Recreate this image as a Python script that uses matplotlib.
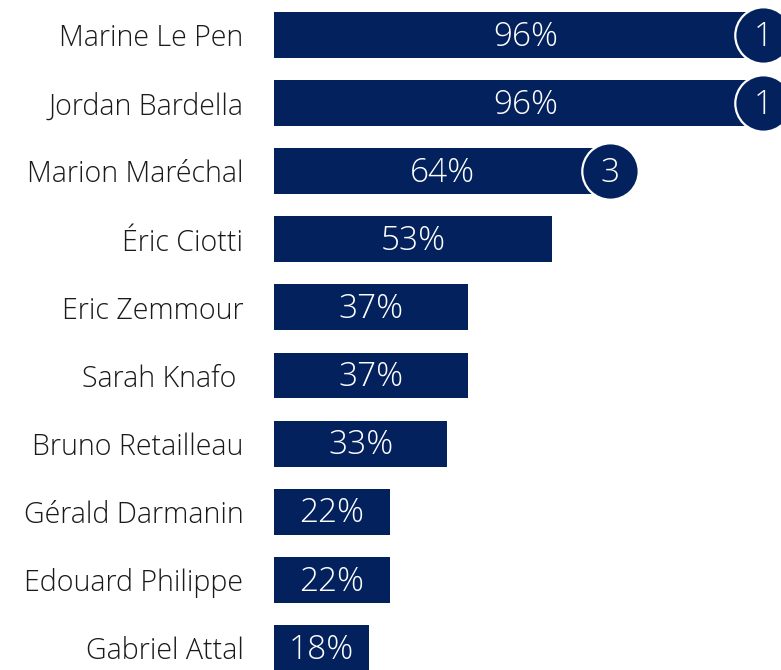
import matplotlib
matplotlib.use("Agg")
import matplotlib.pyplot as plt

plt.rcParams['font.family'] = ['Open Sans', 'DejaVu Sans']
plt.rcParams['font.weight'] = 'light'

names = ["Marine Le Pen", "Jordan Bardella", "Marion Maréchal", "Éric Ciotti",
         "Eric Zemmour", "Sarah Knafo ", "Bruno Retailleau", "Gérald Darmanin",
         "Edouard Philippe", "Gabriel Attal"]
values = [96, 96, 64, 53, 37, 37, 33, 22, 22, 18]
# rank badges shown on the first bars
ranks = ["1", "1", "3"]

navy = '#03215d'

fig = plt.figure(figsize=(7.81, 6.70), dpi=100)
ax = fig.add_axes([274 / 781, 0, 507 / 781, 1])

y = list(range(len(names)))
ax.barh(y, values, height=0.675, color=navy)

for i, v in enumerate(values):
    ax.text(v / 2, i + 0.03, f"{v}%", color='white', fontsize=24,
            fontweight='light', ha='center', va='center')

for i, r in enumerate(ranks):
    cx = min(values[i], 93.2)
    ax.scatter([cx], [i], s=1650, color=navy, edgecolors='white',
               linewidths=1.6, zorder=3)
    ax.text(cx, i + 0.03, r, color='white', fontsize=24, fontweight='light',
            ha='center', va='center', zorder=4)

ax.set_xlim(0, 507 / 5.25)
ax.set_ylim(9.325, -0.514)
ax.set_yticks(y)
ax.set_yticklabels(names, fontsize=20.6, color='#1a1a1a', fontweight='light')
ax.tick_params(axis='y', length=0, pad=22)
ax.set_xticks([])
for s in ax.spines.values():
    s.set_visible(False)

fig.savefig("out.png", dpi=100)
